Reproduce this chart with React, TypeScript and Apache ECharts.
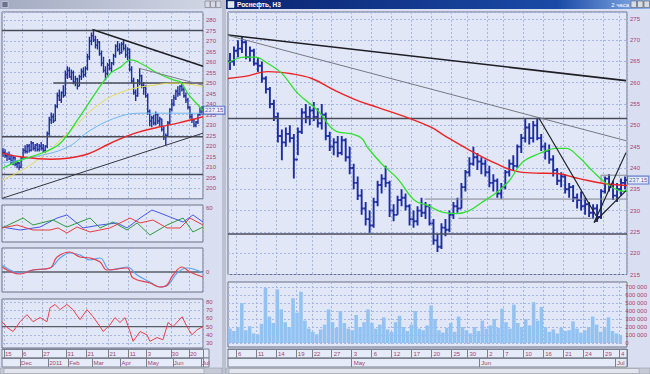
import React, { useEffect, useRef } from "react";
import * as echarts from "echarts";

/* ================= Right window: Роснефть, 2-hour bars ================= */
const R_HIGH = [
  267, 268.5, 270, 270.8, 270, 268.5, 268, 266, 265, 261.5,
  259, 256, 253, 249, 249.5, 250, 248, 249.5, 254, 255,
  254.5, 255.5, 254, 255, 253, 248.5, 247, 247.5, 247.5, 247,
  245, 241, 238, 235, 232, 230, 233, 237, 238.5, 240.5,
  237, 231.5, 233.5, 235, 234, 231.5, 230, 231, 233, 232,
  231.5, 228, 224.5, 227, 228, 230, 232, 233, 236.5, 239.5,
  242.5, 245, 243.5, 242.5, 242, 240.5, 238.5, 237.5, 236.5, 239.5,
  242, 243, 245.5, 248, 251.5, 250.5, 251, 251.8, 248, 246,
  245.5, 243, 240, 239, 238.5, 236.5, 236, 234, 234.5, 233,
  232, 231.5, 231.5, 235, 238, 238.5, 237, 236.5, 237.5, 238,
];
const R_LOW = [
  263, 264, 266, 267, 265.5, 265, 264, 262.5, 260, 257.5,
  254, 251, 246, 241.8, 245, 246, 237.5, 243, 248, 250.5,
  250, 251, 249.5, 249, 246.5, 244, 243, 242.5, 243, 241.5,
  238.5, 235, 232.5, 229, 226.5, 224.8, 226, 231, 234, 235.5,
  228.5, 227.5, 229, 231, 230, 226.5, 226, 226.5, 228.5, 228,
  226.5, 222, 220.3, 221, 224, 225, 228, 229.5, 230.5, 234.5,
  238, 240.5, 239.5, 238.5, 238, 235.5, 234.5, 233, 232.8, 235,
  238, 239.5, 240, 243.5, 246, 245.5, 246, 246.5, 244, 242,
  241, 238, 236, 235.5, 234, 233, 232, 230.5, 230, 229,
  228.5, 228, 227.3, 228, 234, 234.5, 232.5, 232, 233.5, 235,
];
const R_CLOSE = [
  265, 267.5, 268, 269.5, 266, 267.5, 264.5, 264, 261, 258.5,
  255, 252, 247.5, 246, 248, 247, 242, 248.5, 253, 252,
  253.5, 252, 250.5, 252.5, 247.5, 245, 246, 243.5, 246.5, 242.5,
  240, 236.5, 233.5, 230.5, 228, 226.5, 232, 236, 237.5, 236.5,
  230, 229, 232.5, 233, 231, 228, 227.5, 230, 229.5, 231,
  227, 223, 221.5, 226, 225.5, 229, 231, 230.5, 235.5, 239,
  241, 242.5, 241.5, 241, 239, 236.5, 237, 234, 235.5, 239,
  241, 240.5, 245, 247, 249.5, 247, 250, 247, 245, 244,
  242, 239.5, 237, 238, 235, 235.5, 233, 232.5, 231, 231.5,
  229.5, 230.5, 228.5, 234.5, 237.5, 235.5, 233.5, 235, 236.5, 237.15,
];
// volume, thousands
const R_VOL_K = [
  180, 150, 200, 500, 160, 210, 120, 110, 240, 690,
  330, 250, 670, 420, 260, 200, 560, 380, 640, 280,
  180, 140, 110, 170, 230, 420, 260, 190, 400, 250,
  180, 160, 350, 200, 260, 420, 250, 180, 230, 320,
  170, 140, 260, 340, 200, 150, 230, 400, 180, 160,
  220, 470, 300, 160, 130, 190, 250, 140, 330, 200,
  160, 120, 200, 150, 280, 180, 220, 300, 190, 430,
  260, 180, 480, 250, 200, 300, 220, 510, 280, 450,
  200, 140, 170, 120, 190, 150, 160, 270, 180, 130,
  160, 200, 330, 230, 140, 190, 320, 150, 120, 100,
];
const R_MA_RED = [
  [-0.5, 261], [3.75, 261.5], [9.5, 262.6], [15.5, 262.1], [20.5, 261], [26.25, 258.2],
  [32, 255.8], [37, 254.2], [44.5, 251.8], [50.5, 249.5], [53.75, 247.6], [60, 244.2],
  [66.75, 241], [71.75, 239.2], [76.75, 238.8], [81.75, 238.7], [87.5, 237.5],
  [93.25, 236.4], [99.5, 235.9],
];
const R_MA_GREEN = [
  [-0.5, 264.7], [3.75, 266], [6.25, 266], [9.5, 264.5], [13, 262.2], [17, 257.5],
  [22, 253.5], [26.25, 248.8], [30.5, 248], [33, 247], [34.5, 244.8], [38, 241],
  [42, 237.5], [46.25, 232.4], [49.5, 231.2], [53.75, 229.5], [56.75, 229.3], [60, 230],
  [63.25, 232], [66.75, 234.2], [70, 237], [73.25, 241.3], [77.5, 243.4], [81.75, 244.6],
  [84.25, 244.6], [87.5, 242.5], [90.75, 239.4], [94.25, 236.4], [97.5, 234.7], [99.5, 234.5],
];
const R_TREND_THICK = [[-0.5, 271.2], [99.25, 260.5]];
const R_TREND_GRAY = [[-0.5, 271.1], [99.25, 246.4]];
const R_TREND_STEEP = [[77.5, 251.6], [91.75, 228.8]];
const R_CHANNEL_UP = [[91.25, 227.2], [99.25, 243.6]];
const R_CHANNEL_LOW = [[91.25, 227.2], [99.25, 234.7]];
// [value, fromIndex, toIndex]
const R_LEVELS_MAIN = [[251.6, -0.5, 99.5], [224.5, -0.5, 99.5]];
const R_LEVELS_MINOR = [[232.7, 48.75, 99.5], [228.2, 57.25, 91.25], [238.3, 93, 99.5]];
const R_DAY_IDX = [2, 7, 12, 17, 21, 26, 31, 36, 41, 46, 51, 56, 60, 65, 69, 74, 79, 84, 89, 94, 98];
const R_DAY_LBL = ["6", "11", "14", "19", "22", "27", "3", "6", "12", "17", "20", "25", "30", "2", "7", "10", "16", "21", "24", "29", "4"];
const R_MON_IDX = [31, 63, 97];
const R_MON_LBL = ["May", "Jun", "Jul"];

/* ================= Left window: daily bars ================= */
const L_HIGH = [
  219, 218.5, 217, 217.5, 216, 215.5, 215, 213.5, 212.5, 215,
  219, 220.5, 221, 221, 222.5, 222, 221, 221.5, 221, 222,
  221, 220.5, 227, 234, 236, 235.5, 240, 245.5, 247, 246,
  249, 256, 258, 257.5, 256.5, 256, 253.5, 252.5, 254, 257,
  257.5, 258, 264, 272, 274, 275.2, 272.5, 271, 270, 265.5,
  262.5, 258, 259.5, 261.5, 260, 264, 268.5, 270, 269, 269.5,
  270.5, 268.5, 267, 266.5, 258, 252.5, 247, 252, 257, 254,
  250.5, 249, 245, 237.5, 234.5, 235, 236.5, 235.5, 234, 233,
  229.5, 226, 232, 238, 242.5, 244.5, 247, 248.5, 249, 250.5,
  248, 245.5, 243, 239, 235.5, 233, 232, 235.5, 238.5, 239,
];
const L_LOW = [
  215, 214.5, 213, 213.5, 211.5, 211, 210.5, 209.5, 208.6, 209.5,
  214, 216.5, 216.5, 217, 217.5, 218, 217.5, 217.5, 217.5, 218,
  217, 217, 219, 225, 230.5, 231, 232, 238, 241.5, 240.5,
  243, 244, 252, 252.5, 251.5, 249.5, 248.5, 247, 248.5, 251.5,
  252.5, 253, 256, 261, 268, 269.5, 266.5, 266, 263, 258,
  255, 251.4, 253.5, 256, 255, 258.5, 262, 265, 263.5, 264,
  265.5, 262, 261, 255.5, 250, 244.5, 241.5, 243.5, 249, 247.5,
  244.5, 243, 235, 229.5, 229, 230, 230, 230.5, 229.5, 227,
  223, 220.5, 224.5, 230.5, 236.5, 239, 242, 243.5, 244, 246,
  243, 240.5, 237.5, 233, 231, 229, 229, 230.5, 234.5, 235,
];
const L_CLOSE = [
  217, 215.5, 216, 214, 213, 214.5, 211.5, 212, 210, 214.5,
  218, 217.5, 220, 218, 221.5, 219, 220.5, 218.5, 220, 219,
  218, 220, 226, 232.5, 234, 232, 239, 244, 242, 245.5,
  244, 254, 256, 253, 255, 250.5, 252, 248.5, 253, 255.5,
  254, 257, 262.5, 270, 272.5, 270.5, 268, 269.5, 264, 259.5,
  256, 254.5, 258.5, 257, 259.5, 263, 267.5, 266, 264.5, 268.5,
  266.5, 263.5, 266, 256.5, 251, 245.5, 244, 251, 253.5, 249,
  248, 244, 236.5, 232, 233.5, 231, 235, 232, 233, 228,
  224.5, 225, 231, 237.5, 240, 243, 246, 245, 248.5, 247,
  244, 242, 238.5, 234, 232.5, 230, 231.5, 235, 236, 237.15,
];
const L_MA_GREEN = [
  [-0.5, 209.5], [8.5, 213.3], [20, 217], [28.5, 221.4], [37, 232.4], [47, 246.7],
  [53.5, 254.7], [58.5, 257.6], [63.5, 261], [70, 258.6], [77, 254.7], [85, 251.4],
  [88.5, 250.4], [92, 245], [98.5, 238], [99.5, 237],
];
const L_MA_YELLOW = [[-0.5, 203.8], [15, 211.9], [32, 226], [48.5, 240.5], [62, 246.7], [75, 249], [85, 250], [99.5, 248.4]];
const L_MA_LBLUE = [[-0.5, 212], [15, 214.8], [32, 219.5], [43.5, 227.6], [57, 233.8], [68.5, 235.7], [82, 235.7], [99.5, 235.7]];
const L_MA_RED = [[-0.5, 216.7], [8.5, 215], [23.5, 213.8], [40, 215.7], [53.5, 221.4], [65, 226], [77, 229], [87, 231], [99.5, 234]];
const L_TREND_THICK = [[44.5, 275.5], [99.5, 258]];
const L_TREND_THIN = [[-0.5, 195.2], [99.5, 226.2]];
const L_TREND_GRAY = [[67.5, 257.1], [99.5, 249]];
const L_LEVELS = [[275, -0.5, 99.5], [250, 25, 99.5], [224.5, -0.5, 99.5], [206.5, -0.5, 99.5]];
const L_OSC_BLUE = [[-0.5, 37.6], [8.5, 34.1], [18.4, 37.6], [26.9, 48.2], [31.8, 51.8], [39.8, 36.5], [48.3, 40], [56.7, 42.4], [61.7, 36.5], [68.2, 48.2], [74.1, 57.6], [78.1, 54.1], [83.1, 49.4], [89.6, 43.5], [94.5, 51.8], [99.5, 43.5]];
const L_OSC_GREEN = [[-0.5, 36.5], [10, 48.2], [14.9, 40], [24.9, 45.9], [31.8, 37.6], [43.3, 48.2], [48.3, 36.5], [54.7, 43.5], [61.7, 34.1], [66.7, 42.4], [73.1, 28.2], [81.6, 40], [89.6, 48.2], [94.5, 31.8], [99.5, 37.6]];
const L_OSC_RED = [[-0.5, 36.5], [7, 40], [14.9, 34.1], [23.4, 34.1], [27.4, 36.5], [31.8, 30.6], [36.8, 37.6], [43.3, 31.8], [53.2, 36.5], [63.2, 48.2], [68.2, 42.4], [74.6, 45.9], [81.6, 36.5], [88.1, 36.5], [93, 48.2], [99.5, 40]];
const L_MACD_BLUE = [[-0.5, 7], [8.5, -1], [14.9, 2], [23.4, 4], [28.4, 14], [33.3, 19], [38.3, 17], [43.3, 12], [48.3, 14], [53.2, 2], [61.7, 5], [66.7, -3], [73.1, -10], [78.1, -15], [82.1, -13], [86.6, -1], [91.5, 4], [99.5, -1]];
const L_MACD_RED = [[-0.5, 5], [8.5, -2], [14.9, 2], [23.4, 4], [26.9, 15], [33.3, 20], [38.3, 15], [43.3, 14], [48.3, 10], [51.7, 2], [61.7, 4], [64.7, -6], [73.1, -11], [78.1, -15], [81.6, -13], [84.6, -3], [89.1, 5], [93, 0], [99.5, -5]];
const L_RSI = [[-0.5, 56], [2, 49], [5, 44], [8.5, 56], [11.9, 64.6], [14.9, 56], [18.4, 61], [21.9, 56], [23.4, 73], [25.9, 77], [28.4, 70.7], [31.8, 77], [34.8, 70.7], [38.3, 58.5], [41.8, 70.7], [44.8, 62], [48.3, 50], [49.8, 44], [53.2, 52], [55.7, 61], [58.2, 55], [60.7, 61], [63.2, 44], [64.7, 32], [68.2, 44], [71.6, 40], [73.1, 32], [76.6, 36.6], [79.6, 34], [82.1, 55], [84.6, 50], [89.1, 62], [91.5, 50], [94, 40], [96.5, 46], [99.5, 50]];
const L_DAY_IDX = [1, 10, 20, 32, 42, 53, 63, 72, 84, 93];
const L_DAY_LBL = ["15", "6", "27", "31", "21", "21", "11", "3", "30", "20"];
const L_MON_IDX = [9, 23, 33, 45, 59, 72, 85, 99];
const L_MON_LBL = ["Dec", "2011", "Feb", "Mar", "Apr", "May", "Jun", "Jul"];

/* ================= styling ================= */
const FONT = "'Liberation Sans', Arial, sans-serif";
const LBL = "#a8426e";
const PANE = "#e2e7f8";
const FRAME = "#6b7082";
const GRIDC = "#a6b6e4";
const BAR = "#1f2d9e";

const idxData = (n: number) => Array.from({ length: n }, (_, i) => String(i));
const labelMap = (n: number, idx: number[], lbl: string[]) => {
  const a: string[] = new Array(n).fill("");
  idx.forEach((k, j) => (a[k] = lbl[j]));
  return a;
};
const ohlcData = (H: number[], L: number[], C: number[]) =>
  C.map((c, i) => [i, i === 0 ? c : C[i - 1], c, L[i], H[i]]);

function ohlcRender(color: string, lw: number) {
  return (_p: any, api: any) => {
    const x = api.value(0);
    const ph = api.coord([x, api.value(4)]);
    const pl = api.coord([x, api.value(3)]);
    const po = api.coord([x, api.value(1)]);
    const pc = api.coord([x, api.value(2)]);
    const w = api.size([1, 0])[0] * 0.5;
    const style = { stroke: color, lineWidth: lw };
    return {
      type: "group",
      children: [
        { type: "line", shape: { x1: ph[0], y1: ph[1], x2: pl[0], y2: pl[1] }, style },
        { type: "line", shape: { x1: po[0] - w, y1: po[1], x2: po[0], y2: po[1] }, style },
        { type: "line", shape: { x1: pc[0], y1: pc[1], x2: pc[0] + w, y2: pc[1] }, style },
      ],
    };
  };
}

function volRender(_p: any, api: any) {
  const x = api.value(0);
  const p0 = api.coord([x, 0]);
  const p1 = api.coord([x, api.value(1)]);
  const w = api.size([1, 0])[0] * 0.9;
  return {
    type: "rect",
    shape: { x: p0[0] - w / 2, y: p1[1], width: w, height: p0[1] - p1[1] },
    style: { fill: "#92c2f2" },
  };
}

function buildOption() {
  const NL = L_CLOSE.length;
  const NR = R_CLOSE.length;
  const lDay = labelMap(NL, L_DAY_IDX, L_DAY_LBL);
  const lMon = labelMap(NL, L_MON_IDX, L_MON_LBL);
  const rDay = labelMap(NR, R_DAY_IDX, R_DAY_LBL);
  const rMon = labelMap(NR, R_MON_IDX, R_MON_LBL);

  const catSplit = (gridIndex: number, n: number, marks: string[]) => ({
    type: "category", gridIndex, position: "bottom", data: idxData(n), boundaryGap: true, z: 1,
    axisLine: { show: false, onZero: false }, axisTick: { show: false }, axisLabel: { show: false },
    splitLine: { show: true, interval: (i: number) => marks[i] !== "", lineStyle: { color: GRIDC, type: [2, 2], width: 1 } },
  });
  const valX = (gridIndex: number, n: number) => ({ type: "value", gridIndex, min: -0.5, max: n - 0.5, show: false });
  const dateAxis = (gridIndex: number, n: number, marks: string[], offset: number) => ({
    type: "category", gridIndex, position: "bottom", offset, data: idxData(n), boundaryGap: true, z: 1,
    axisLine: { show: true, onZero: false, lineStyle: { color: "#7c8190", width: 1 } },
    axisTick: { show: true, interval: (i: number) => marks[i] !== "", length: 9, inside: false, lineStyle: { color: "#7c8190" } },
    axisLabel: {
      show: true, interval: (i: number) => marks[i] !== "", formatter: (_v: string, i: number) => marks[i],
      align: "left", margin: 1.5, fontSize: 6, color: LBL, fontFamily: FONT,
    },
    splitLine: { show: false },
  });
  const dummyY = (gridIndex: number) => ({ type: "value", gridIndex, min: 0, max: 1, show: false });
  const priceY = (gridIndex: number, min: number, max: number, interval: number, extra: any = {}) => ({
    type: "value", gridIndex, position: "right", min, max, interval, z: 1,
    axisLine: { show: false }, axisTick: { show: false },
    axisLabel: { fontSize: 6, color: LBL, fontFamily: FONT, margin: 3, showMaxLabel: false, ...(extra.axisLabel || {}) },
    splitLine: extra.splitLine || { show: true, lineStyle: { color: GRIDC, type: [2, 2], width: 1 } },
  });

  const frameGrid = (left: number, top: number, width: number, height: number) => ({
    left, top, width, height, show: true, backgroundColor: PANE, borderColor: FRAME, borderWidth: 1, z: 0,
  });
  const dataGrid = (left: number, top: number, width: number, height: number) => ({ left, top, width, height, show: false });

  const line = (data: number[][], xi: number, yi: number, color: string, width: number, extra: any = {}) => ({
    type: "line", data, xAxisIndex: xi, yAxisIndex: yi, symbol: "none", silent: true,
    lineStyle: { color, width }, ...extra,
  });
  const levels = (lv: number[][], xi: number, yi: number, color: string, width: number) =>
    lv.map((l) => line([[l[1], l[0]], [l[2], l[0]]], xi, yi, color, width));
  const lastLabel = (xi: number, yi: number, x: number, v: number) => ({
    type: "scatter", xAxisIndex: xi, yAxisIndex: yi, data: [[x, v]], symbolSize: 0, clip: false, silent: true, z: 10,
    label: {
      show: true, position: "right", distance: 1, formatter: v.toFixed(2), fontSize: 6, fontFamily: FONT,
      color: "#1c2c90", backgroundColor: "#f4f6ff", borderColor: "#3b56c4", borderWidth: 1, padding: [1, 1, 0, 1],
    },
  });

  return {
    animation: false,
    backgroundColor: "#d9dff0",
    textStyle: { fontFamily: FONT },
    grid: [
      frameGrid(2, 12, 201, 186.8), // 0 left price
      frameGrid(2, 205, 201, 37), // 1 left osc frame
      dataGrid(2, 208, 201, 34), // 2 left osc data
      frameGrid(2, 248, 201, 44), // 3 left macd
      frameGrid(2, 299, 201, 49), // 4 left rsi frame
      dataGrid(2, 302, 201, 41), // 5 left rsi data
      frameGrid(228, 12, 399, 262.5), // 6 right price
      frameGrid(228, 282, 399, 65), // 7 right volume frame
      dataGrid(228, 287, 399, 56), // 8 right volume data
    ],
    xAxis: [
      catSplit(0, NL, lDay), // 0
      valX(0, NL), // 1
      catSplit(1, NL, lDay), // 2
      valX(2, NL), // 3
      catSplit(3, NL, lDay), // 4
      valX(3, NL), // 5
      catSplit(4, NL, lDay), // 6
      dateAxis(4, NL, lDay, 1), // 7
      dateAxis(4, NL, lMon, 10), // 8
      valX(5, NL), // 9
      catSplit(6, NR, rDay), // 10
      valX(6, NR), // 11
      catSplit(7, NR, rDay), // 12
      dateAxis(7, NR, rDay, 2), // 13
      dateAxis(7, NR, rMon, 11), // 14
      valX(8, NR), // 15
    ],
    yAxis: [
      priceY(0, 195, 283.8, 5, { axisLabel: { showMinLabel: false } }), // 0
      dummyY(1), // 1
      priceY(2, 20, 60, 10, { axisLabel: { showMaxLabel: true, formatter: (v: number) => (v === 60 ? "60" : "") }, splitLine: { show: false } }), // 2
      priceY(3, -20, 24, 4, { axisLabel: { formatter: (v: number) => (v === 0 ? "0" : "") }, splitLine: { show: false } }), // 3
      dummyY(4), // 4
      priceY(5, 30, 80, 10, { axisLabel: { showMaxLabel: true } }), // 5
      priceY(6, 215, 276.6, 5), // 6
      dummyY(7), // 7
      priceY(8, 0, 700, 100, { axisLabel: { showMaxLabel: true, formatter: (v: number) => (v === 0 ? "0" : `${v} 000`) } }), // 8
    ],
    series: [
      // ---- left price pane
      ...levels(L_LEVELS, 1, 0, "#4a4d57", 1.5),
      { type: "custom", xAxisIndex: 1, yAxisIndex: 0, data: ohlcData(L_HIGH, L_LOW, L_CLOSE), renderItem: ohlcRender(BAR, 1.4), encode: { x: 0, y: [1, 2, 3, 4] }, clip: true, silent: true },
      line(L_MA_YELLOW, 1, 0, "#e6dc52", 1, { smooth: 0.4 }),
      line(L_MA_LBLUE, 1, 0, "#6db8f3", 1, { smooth: 0.4 }),
      line(L_MA_RED, 1, 0, "#ec2424", 1.4, { smooth: 0.4 }),
      line(L_MA_GREEN, 1, 0, "#2fe02f", 1.3, { smooth: 0.4 }),
      line(L_TREND_THICK, 1, 0, "#1e1e24", 1.5),
      line(L_TREND_THIN, 1, 0, "#34363e", 1),
      line(L_TREND_GRAY, 1, 0, "#7d7f88", 1),
      lastLabel(1, 0, NL - 0.5, L_CLOSE[NL - 1]),
      // ---- left oscillator pane
      line(L_OSC_BLUE, 3, 2, "#4657ee", 1),
      line(L_OSC_GREEN, 3, 2, "#2c9c3c", 1),
      line(L_OSC_RED, 3, 2, "#e83c3c", 1),
      // ---- left MACD pane
      line([[-0.5, 0], [NL - 0.5, 0]], 5, 3, "#5a5d66", 1.3),
      line(L_MACD_BLUE, 5, 3, "#58a2f2", 1.2, { smooth: 0.4 }),
      line(L_MACD_RED, 5, 3, "#e8404a", 1.2, { smooth: 0.4 }),
      // ---- left RSI pane
      line([[-0.5, 50], [NL - 0.5, 50]], 9, 5, "#5a5d66", 1.3),
      line(L_RSI, 9, 5, "#e8404a", 1),
      // ---- right price pane
      ...levels(R_LEVELS_MAIN, 11, 6, "#4a4d57", 1.5),
      ...levels(R_LEVELS_MINOR, 11, 6, "#80838c", 1),
      line([[93, 238.3], [93, 236.6]], 11, 6, "#80838c", 1),
      { type: "custom", xAxisIndex: 11, yAxisIndex: 6, data: ohlcData(R_HIGH, R_LOW, R_CLOSE), renderItem: ohlcRender(BAR, 1.9), encode: { x: 0, y: [1, 2, 3, 4] }, clip: true, silent: true },
      line(R_MA_RED, 11, 6, "#ec2424", 1.4, { smooth: 0.4 }),
      line(R_MA_GREEN, 11, 6, "#2fe02f", 1.3, { smooth: 0.4 }),
      line(R_TREND_THICK, 11, 6, "#1e1e24", 1.6),
      line(R_TREND_GRAY, 11, 6, "#767983", 1),
      line(R_TREND_STEEP, 11, 6, "#1e1e24", 1.2),
      line(R_CHANNEL_UP, 11, 6, "#1e1e24", 1.2),
      line(R_CHANNEL_LOW, 11, 6, "#1e1e24", 1.2),
      lastLabel(11, 6, NR - 0.5, R_CLOSE[NR - 1]),
      // ---- right volume pane
      { type: "custom", xAxisIndex: 15, yAxisIndex: 8, data: R_VOL_K.map((v, i) => [i, v]), renderItem: volRender, encode: { x: 0, y: 1 }, clip: true, silent: true },
    ],
    graphic: {
      elements: [
        // left window title bar
        { type: "rect", z: -1, shape: { x: 0, y: 0, width: 222, height: 9 }, style: { fill: new echarts.graphic.LinearGradient(0, 0, 1, 0, [{ offset: 0, color: "#a3abc2" }, { offset: 1, color: "#d3d8e6" }]) } },
        { type: "rect", z: 1, shape: { x: 2, y: 1.5, width: 6, height: 6 }, style: { fill: "#6a7290", stroke: "#e8ebf3", lineWidth: 0.5 } },
        { type: "rect", z: 1, shape: { x: 205, y: 1, width: 5, height: 6.5 }, style: { fill: "#d8dbe4", stroke: "#6e7280", lineWidth: 0.6 } },
        { type: "rect", z: 1, shape: { x: 210.5, y: 1, width: 5, height: 6.5 }, style: { fill: "#d8dbe4", stroke: "#6e7280", lineWidth: 0.6 } },
        { type: "rect", z: 1, shape: { x: 216, y: 1, width: 5, height: 6.5 }, style: { fill: "#d8dbe4", stroke: "#6e7280", lineWidth: 0.6 } },
        // window separator
        { type: "rect", z: -1, shape: { x: 222, y: 0, width: 4, height: 374 }, style: { fill: "#bcc1cf" } },
        // right window title bar
        { type: "rect", z: -1, shape: { x: 226, y: 0, width: 424, height: 9 }, style: { fill: new echarts.graphic.LinearGradient(0, 0, 1, 0, [{ offset: 0, color: "#0a2470" }, { offset: 0.78, color: "#1a4aa6" }, { offset: 1, color: "#8cb2ea" }]) } },
        { type: "rect", z: 1, shape: { x: 228, y: 1.5, width: 6, height: 6 }, style: { fill: "#dfe6f5", stroke: "#ffffff", lineWidth: 0.5 } },
        { type: "text", z: 1, style: { x: 237, y: 4.6, text: "Роснефть, Н3", fill: "#ffffff", fontSize: 6.5, fontWeight: "bold", fontFamily: FONT, verticalAlign: "middle" } },
        { type: "text", z: 1, style: { x: 629, y: 4.6, text: "2 часа", fill: "#ffffff", fontSize: 6, fontFamily: FONT, verticalAlign: "middle", align: "right" } },
        { type: "rect", z: 1, shape: { x: 631, y: 1, width: 5.5, height: 6.5 }, style: { fill: "#d8dbe4", stroke: "#5a5e6c", lineWidth: 0.6 } },
        { type: "rect", z: 1, shape: { x: 637.5, y: 1, width: 5.5, height: 6.5 }, style: { fill: "#d8dbe4", stroke: "#5a5e6c", lineWidth: 0.6 } },
        { type: "rect", z: 1, shape: { x: 644, y: 1, width: 5.5, height: 6.5 }, style: { fill: "#d8dbe4", stroke: "#5a5e6c", lineWidth: 0.6 } },
        // date strips
        { type: "rect", z: -1, shape: { x: 2, y: 349, width: 207, height: 9 }, style: { fill: "#e6ebf8", stroke: "#7c8190", lineWidth: 1 } },
        { type: "rect", z: -1, shape: { x: 2, y: 358, width: 207, height: 9 }, style: { fill: "#e6ebf8", stroke: "#7c8190", lineWidth: 1 } },
        { type: "rect", z: -1, shape: { x: 228, y: 349, width: 399, height: 9 }, style: { fill: "#e6ebf8", stroke: "#7c8190", lineWidth: 1 } },
        { type: "rect", z: -1, shape: { x: 228, y: 358, width: 399, height: 9 }, style: { fill: "#e6ebf8", stroke: "#7c8190", lineWidth: 1 } },
        // scrollbars
        { type: "rect", z: -1, shape: { x: 0, y: 368, width: 222, height: 6 }, style: { fill: "#c6cad6", stroke: "#8a8e9a", lineWidth: 0.5 } },
        { type: "rect", z: -1, shape: { x: 226, y: 368, width: 424, height: 6 }, style: { fill: "#c6cad6", stroke: "#8a8e9a", lineWidth: 0.5 } },
        { type: "rect", z: 0, shape: { x: 4, y: 368.5, width: 200, height: 5 }, style: { fill: "#e2e5ee", stroke: "#8a8e9a", lineWidth: 0.5 } },
        { type: "rect", z: 0, shape: { x: 229, y: 368.5, width: 410, height: 5 }, style: { fill: "#e2e5ee", stroke: "#8a8e9a", lineWidth: 0.5 } },
      ],
    },
  };
}

export default function App() {
  const ref = useRef<HTMLDivElement>(null);
  useEffect(() => {
    const chart = echarts.init(ref.current!, undefined, { renderer: "svg" });
    chart.setOption(buildOption() as any);
    return () => chart.dispose();
  }, []);
  return <div ref={ref} style={{ position: "absolute", left: 0, top: 0, width: 650, height: 374 }} />;
}
